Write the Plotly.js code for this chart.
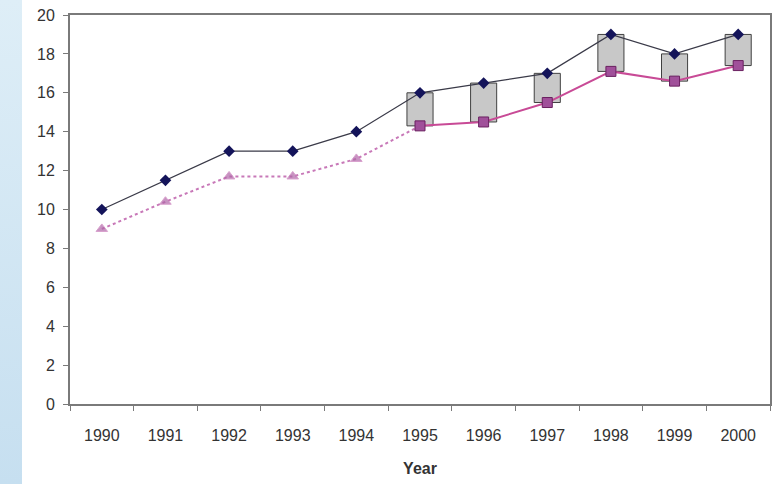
<!DOCTYPE html>
<html>
<head>
<meta charset="utf-8">
<script src="https://cdn.plot.ly/plotly-3.0.1.min.js"></script>
<style>
html,body{margin:0;padding:0;background:#fff;}
#strip{position:absolute;left:0;top:0;width:22px;height:484px;background:linear-gradient(to bottom,#deeef7,#c6dff0);}
#chart{position:absolute;left:0;top:0;width:774px;height:484px;}
</style>
</head>
<body>
<div id="strip"></div>
<div id="chart"></div>
<script>
var years = ['1990','1991','1992','1993','1994','1995','1996','1997','1998','1999','2000'];
var upper = [10, 11.5, 13, 13, 14, 16, 16.5, 17, 19, 18, 19];
var lowerEarlyYears = ['1990','1991','1992','1993','1994','1995'];
var lowerEarly = [9, 10.4, 11.7, 11.7, 12.6, 14.3];
var lowerLateYears = ['1995','1996','1997','1998','1999','2000'];
var lowerLate = [14.3, 14.5, 15.5, 17.1, 16.6, 17.4];
var tickVals = [0, 2, 4, 6, 8, 10, 12, 14, 16, 18, 20];

// up/down boxes between upper and lower for 1995-2000
var boxUpper = upper.slice(5);
var boxHeights = boxUpper.map(function(u, i){ return u - lowerLate[i]; });

var traces = [
  {type:'bar', x: lowerLateYears, y: boxHeights, base: lowerLate, width: 0.41,
   marker:{color:'#c8c8c8', line:{color:'#404040', width:1}}, hoverinfo:'skip', showlegend:false},
  {type:'scatter', mode:'lines+markers', x: lowerEarlyYears, y: lowerEarly,
   line:{color:'#c878b8', width:2, dash:'dot'},
   marker:{symbol:'triangle-up', size:[10,10,10,10,10,0], color:'#b066a8'}, showlegend:false},
  {type:'scatter', mode:'lines+markers', x: lowerLateYears, y: lowerLate,
   line:{color:'#c84a96', width:2},
   marker:{symbol:'square', size:10, color:'#a0509a', line:{color:'#6a2060', width:1}}, showlegend:false},
  {type:'scatter', mode:'lines+markers', x: years, y: upper,
   line:{color:'#3a3a48', width:1.3},
   marker:{symbol:'diamond', size:9, color:'#14145a'}, showlegend:false}
];

var layout = {
  width: 774, height: 484,
  margin:{l:70, r:4, t:15, b:80},
  paper_bgcolor:'rgba(0,0,0,0)', plot_bgcolor:'#ffffff',
  font:{family:'Liberation Sans, Arial, sans-serif', size:16, color:'#333333'},
  barmode:'overlay',
  showlegend:false,
  xaxis:{type:'category', categoryorder:'array', categoryarray: years,
    range:[-0.5, 10.5], showgrid:false, zeroline:false,
    showline:true, linecolor:'#7a7a7a', linewidth:2, mirror:true,
    ticks:'outside', tickson:'boundaries', ticklen:5, tickcolor:'#7a7a7a',
    ticklabelstandoff:16,
    title:{text:'<b>Year</b>', font:{size:16, color:'#333333'}, standoff:20}},
  yaxis:{range:[0, 20], tickvals: tickVals, showgrid:false, zeroline:false,
    showline:true, linecolor:'#7a7a7a', linewidth:2, mirror:true,
    ticks:'outside', ticklen:5, tickcolor:'#7a7a7a', ticklabelstandoff:5}
};

Plotly.newPlot('chart', traces, layout, {displayModeBar:false, staticPlot:true});
</script>
</body>
</html>
